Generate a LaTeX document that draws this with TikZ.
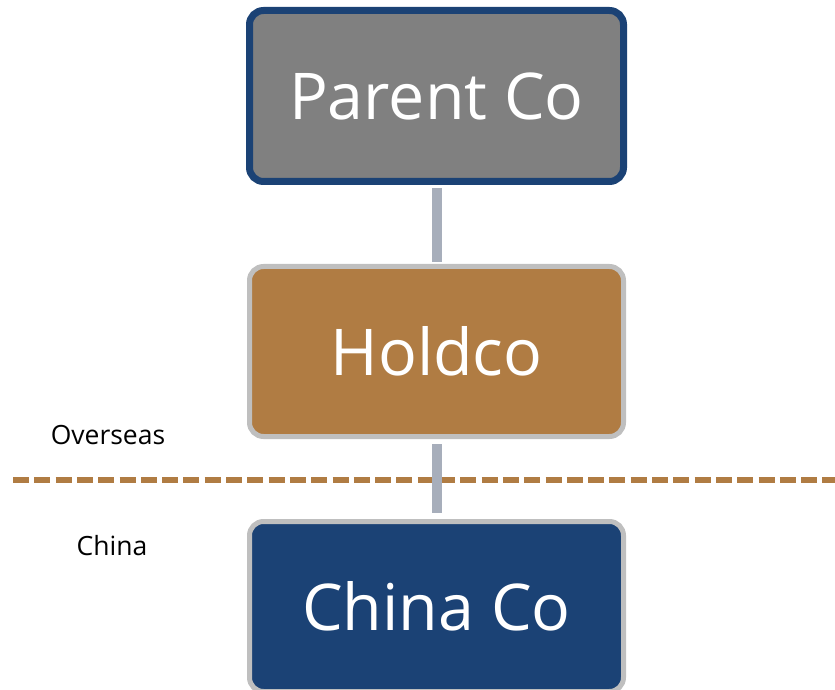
\documentclass[tikz,border=0pt]{standalone}
\usepackage{fontspec}
\setmainfont{Open Sans}
\definecolor{boxgray}{HTML}{808080}
\definecolor{darkblue}{HTML}{1B4275}
\definecolor{brown}{HTML}{B07C43}
\definecolor{bordergray}{HTML}{BFBFBF}
\definecolor{conngray}{HTML}{A7AEBB}
\tikzset{
  entity/.style={rectangle, rounded corners=14pt, minimum width=374pt, text=white, font=\fontsize{64.5}{72}\selectfont, inner sep=0pt},
  conn/.style={draw=conngray, line width=10pt},
  region/.style={font=\fontsize{26.5}{30}\selectfont, text=black, anchor=base, inner sep=0pt},
}
\begin{document}
\begin{tikzpicture}[x=1pt,y=1pt]
\useasboundingbox (0,0) rectangle (835,689);
\clip (0,0) rectangle (835,689);
% border line
\coordinate (dl) at (13,209);
\coordinate (dr) at (840,209);
\draw[brown, line width=5.5pt, dash pattern=on 16pt off 5.3pt] (dl) -- (dr);
% boxes
\node[entity, fill=boxgray, draw=darkblue, line width=7pt, minimum height=171pt] (parent) at (436.5,593) {Parent Co};
\node[entity, fill=brown, draw=bordergray, line width=5pt, minimum height=170pt] (holdco) at (436.5,337.5) {Holdco};
\node[entity, fill=darkblue, draw=bordergray, line width=5pt, minimum height=170pt] (china) at (436.5,82.5) {China Co};
% connectors
\draw[conn, shorten <=3pt, shorten >=2pt] (parent.south) -- (holdco.north);
\draw[conn, shorten <=5pt, shorten >=6pt] (holdco.south) -- (china.north);
% labels
\node[region] (overseas) at (108,245) {Overseas};
\node[region] (chinalbl) at (112,134) {China};
\end{tikzpicture}
\end{document}
